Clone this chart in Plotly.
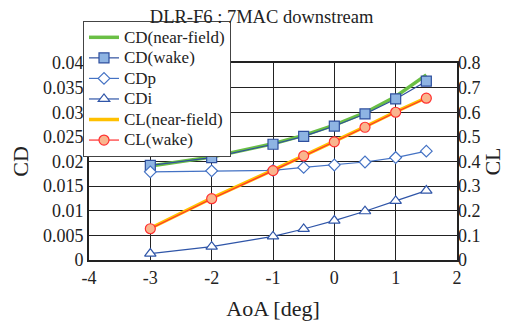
import plotly.graph_objects as go

aoa = [-3, -2, -1, -0.5, 0, 0.5, 1, 1.5]
cd_near = [0.0191, 0.0209, 0.0236, 0.0253, 0.0274, 0.0299, 0.0332, 0.0376]
cd_wake = [0.0192, 0.0208, 0.0235, 0.0251, 0.0272, 0.02965, 0.0327, 0.0363]
cdp = [0.0179, 0.0181, 0.0182, 0.0188, 0.0193, 0.0199, 0.0208, 0.0221]
cdi = [0.0013, 0.0027, 0.0048, 0.0063, 0.0080, 0.0099, 0.0120, 0.0141]
cl_near = [0.129, 0.251, 0.365, 0.425, 0.482, 0.541, 0.602, 0.659]
cl_wake = [0.127, 0.249, 0.363, 0.423, 0.480, 0.539, 0.600, 0.657]

x_ticks = [-4, -3, -2, -1, 0, 1, 2]
x_tick_text = ["-4", "-3", "-2", "-1", "0", "1", "2"]

font = "Liberation Serif, Times New Roman, serif"
txt = "#222222"


def lname(s):
    return '<span style="font-size:17px">' + s + '</span>'


fig = go.Figure()
fig.add_trace(go.Scatter(x=aoa, y=cd_near, name=lname("CD(near-field)"), mode="lines",
                         line=dict(color="#6abf45", width=3.5)))
fig.add_trace(go.Scatter(x=aoa, y=cd_wake, name=lname("CD(wake)"), mode="lines+markers",
                         line=dict(color="#2e4f9e", width=1.2),
                         marker=dict(symbol="square", size=10, color="#8eb4e3",
                                     line=dict(color="#2e4f9e", width=1.2))))
fig.add_trace(go.Scatter(x=aoa, y=cdp, name=lname("CDp"), mode="lines+markers",
                         line=dict(color="#4472c4", width=1.2),
                         marker=dict(symbol="diamond", size=9, color="white",
                                     line=dict(color="#4472c4", width=1.2))))
fig.add_trace(go.Scatter(x=aoa, y=cdi, name=lname("CDi"), mode="lines+markers",
                         line=dict(color="#2f55a8", width=1.2),
                         marker=dict(symbol="triangle-up", size=10, color="white",
                                     line=dict(color="#2f55a8", width=1.2))))
fig.add_trace(go.Scatter(x=aoa, y=cl_near, name=lname("CL(near-field)"), mode="lines", yaxis="y2",
                         line=dict(color="#ffc000", width=3.5)))
fig.add_trace(go.Scatter(x=aoa, y=cl_wake, name=lname("CL(wake)"), mode="lines+markers", yaxis="y2",
                         line=dict(color="#ff3030", width=1.2),
                         marker=dict(symbol="circle", size=10, color="#f9b58e",
                                     line=dict(color="#ff3030", width=1.2))))

fig.update_layout(
    width=502, height=321,
    margin=dict(l=81, r=53, t=55, b=69, autoexpand=False),
    paper_bgcolor="white", plot_bgcolor="white",
    font=dict(family=font, size=18, color=txt),
    title=dict(text="DLR-F6 : 7MAC downstream", xref="paper", x=0.469, xanchor="center",
               y=0.972, yanchor="middle",
               font=dict(family=font, size=18.5, color=txt)),
    xaxis=dict(range=[-4, 2], tickvals=x_ticks, ticktext=x_tick_text,
               showgrid=True, gridcolor="#222222", gridwidth=1,
               showline=True, linecolor="#222222", linewidth=2, mirror=True,
               zeroline=False, ticks="", automargin=False,
               title=dict(text="AoA [deg]", standoff=14)),
    yaxis=dict(range=[0, 0.04], dtick=0.005, showgrid=True, gridcolor="#222222", gridwidth=1,
               showline=True, linecolor="#222222", linewidth=2, mirror=True,
               zeroline=False, ticks="", automargin=False,
               title=dict(text="CD", standoff=19)),
    yaxis2=dict(range=[0, 0.8], dtick=0.1, overlaying="y", side="right",
                showgrid=False, zeroline=False, ticks="", automargin=False,
                title=dict(text="CL", standoff=0)),
    legend=dict(x=-0.0163, y=1.213, xanchor="left", yanchor="top",
                bgcolor="white", bordercolor="#444444", borderwidth=1,
                font=dict(family=font, size=13.5, color=txt),
                itemwidth=30, tracegroupgap=0),
    showlegend=True,
)

fig.write_html("out.html")
